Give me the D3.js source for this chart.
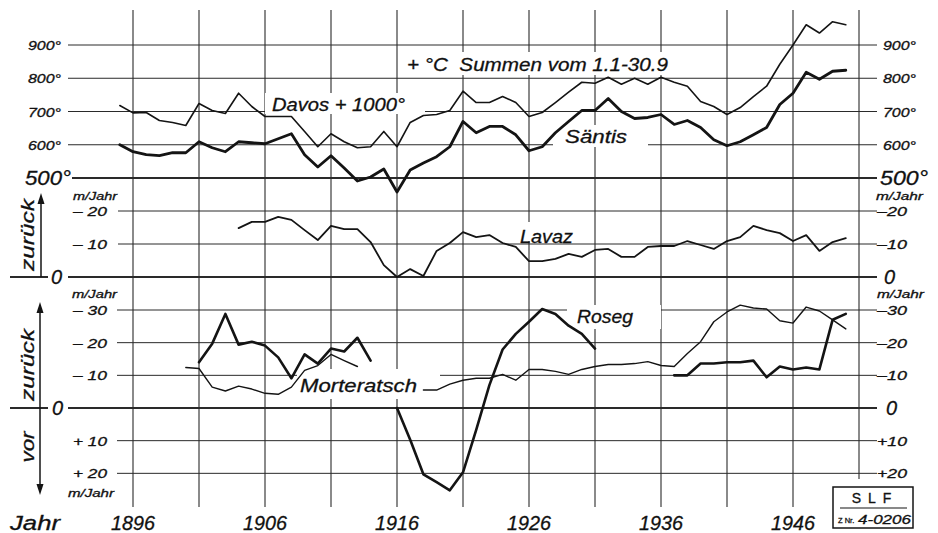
<!DOCTYPE html>
<html>
<head>
<meta charset="utf-8">
<script src="https://cdn.jsdelivr.net/npm/d3@7"></script>
<style>
  html, body { margin: 0; padding: 0; background: #fff; }
  svg { display: block; }
  text { font-family: "Liberation Sans", Arial, sans-serif; font-style: italic; fill: #111; stroke: #111; stroke-width: 0.3; }
</style>
</head>
<body>
<svg id="chart" width="938" height="533"></svg>
<script>
// ---------- DATA ----------
const years = [1895,1896,1897,1898,1899,1900,1901,1902,1903,1904,1905,1906,1907,1908,1909,
  1910,1911,1912,1913,1914,1915,1916,1917,1918,1919,1920,1921,1922,1923,1924,1925,1926,1927,
  1928,1929,1930,1931,1932,1933,1934,1935,1936,1937,1938,1939,1940,1941,1942,1943,1944,1945,
  1946,1947,1948,1949,1950];

// Temperature sums (+°C, 1.1-30.9); Davos shown +1000°
const davos = [718,696,697,673,667,658,724,703,694,755,715,685,685,685,640,
  594,633,609,591,594,640,594,667,688,691,703,761,727,727,745,727,685,697,
  727,758,788,785,803,782,800,782,803,788,776,730,715,691,712,745,776,842,
  900,961,936,970,961];
const saentis = [600,579,570,567,576,576,609,591,579,609,606,603,618,633,570,
  533,567,530,491,503,527,458,524,545,564,594,670,636,655,655,630,582,594,
  636,670,703,703,739,700,679,682,691,661,673,652,615,597,609,630,652,721,
  755,818,797,821,824];

// Glacier change, m/Jahr (positive = zurück / retreat, negative = vor / advance)
const lavaz = [null,null,null,null,null,null,null,null,null,14.8,16.7,16.7,18.2,17.3,14.2,
  11.2,15.5,14.5,14.5,10.6,3.6,0,2.4,0.3,7.9,10.3,13.6,12.1,12.7,10.3,9.1,4.8,4.8,
  5.5,7.0,6.1,8.2,8.5,6.1,6.1,9.1,9.4,9.4,10.9,9.7,8.5,10.9,12.1,15.5,14.2,13.3,
  10.9,12.7,7.9,10.6,11.8];
const morteratsch = [null,null,null,null,null,12.4,12.1,6.4,5.2,6.7,5.8,4.5,4.2,6.4,11.5,
  13.0,16.4,14.5,12.7,null,null,null,null,5.5,5.5,7.3,8.5,9.1,9.1,10.3,8.5,11.8,11.8,
  11.2,10.3,11.8,12.7,13.3,13.3,13.6,14.2,13.0,12.7,16.7,20.3,26.4,29.4,31.5,30.6,30.3,26.7,
  26.0,30.9,29.7,27.0,24.2];
const roseg = [null,null,null,null,null,null,14.0,19.7,28.8,19.4,20.3,19.1,15.5,9.1,16.4,
  13.6,18.2,17.3,21.5,14.5,null,0,-9.7,-20.3,-22.7,-25.2,-19.7,-6.7,7.0,17.9,22.7,26.4,30.3,
  28.8,25.2,22.7,18.2,null,null,null,null,null,10.0,10.0,13.6,13.6,14.0,14.0,14.5,9.4,12.7,
  11.8,12.4,11.8,27.0,28.8];

// Ticks / labels
const gridYears = [1896,1901,1906,1911,1916,1921,1926,1931,1936,1941,1946,1951];
const yearLabels = [1896,1906,1916,1926,1936,1946];
const tempTicks = [600,700,800,900];
const tempLabels = ["600°","700°","800°","900°"];
const midTicks = [10,20];
const midLabelsL = ["– 10","– 20"];
const midLabelsR = ["–10","–20"];
const botTicks = [30,20,10,-10,-20];
const botLabelsL = ["– 30","– 20","– 10","+ 10","+ 20"];
const botLabelsR = ["–30","–20","–10","+10","+20"];

// ---------- SCALES ----------
const svg = d3.select("#chart");
const x = d3.scaleLinear().domain([1896,1951]).range([133,859]);
const yTop = d3.scaleLinear().domain([500,900]).range([178,45]);
const yMid = d3.scaleLinear().domain([0,20]).range([277,211]);
const yBot = d3.scaleLinear().domain([0,30]).range([408,310]);

const ink = "#141414";
const grid = svg.append("g");

// vertical grid lines
grid.selectAll("line.v").data(gridYears).join("line")
  .attr("x1", d => x(d)).attr("x2", d => x(d))
  .attr("y1", 10).attr("y2", d => d === 1951 ? 479 : 507)
  .attr("stroke", "#2a2a2a").attr("stroke-width", 1.1);

// horizontal grid lines
function hline(y, x1, x2, w) {
  grid.append("line").attr("x1", x1).attr("x2", x2).attr("y1", y).attr("y2", y)
    .attr("stroke", "#2a2a2a").attr("stroke-width", w);
}
tempTicks.forEach(t => hline(yTop(t), 68, 877, 1));
hline(yTop(500), 72, 877, 1.8);
midTicks.forEach(t => hline(yMid(t), 118, 877, 1));
hline(yMid(0), 68, 877, 1.8);
hline(yMid(0), 10, 48, 1.8);
botTicks.forEach(t => hline(yBot(t), 117, 877, 1));
hline(yBot(0), 68, 877, 1.8);
hline(yBot(0), 10, 48, 1.8);

// white boxes behind in-plot labels
const boxes = [[403,52,269,23],[265,93,160,21],[553,125,95,22],[515,222,65,19],[567,305,94,24],[297,369,143,30]];
grid.selectAll("rect.bg").data(boxes).join("rect")
  .attr("x", d => d[0]).attr("y", d => d[1]).attr("width", d => d[2]).attr("height", d => d[3])
  .attr("fill", "#fff");

// ---------- DATA LINES ----------
function drawSeries(vals, yScale, w) {
  const pts = years.map((yr, i) => [yr, vals[i]]);
  const line = d3.line().defined(d => d[1] !== null)
    .x(d => x(d[0])).y(d => yScale(d[1]));
  svg.append("path").attr("d", line(pts)).attr("fill", "none")
    .attr("stroke", ink).attr("stroke-width", w)
    .attr("stroke-linejoin", "round").attr("stroke-linecap", "round");
}
drawSeries(davos, yTop, 1.6);
drawSeries(saentis, yTop, 2.8);
drawSeries(lavaz, yMid, 1.8);
drawSeries(morteratsch, yBot, 1.4);
drawSeries(roseg, yBot, 2.6);

// ---------- TEXT ----------
function txt(s, xx, yy, size, opts = {}) {
  const t = svg.append("text").attr("x", xx).attr("y", yy).attr("font-size", size).text(s);
  if (opts.anchor) t.attr("text-anchor", opts.anchor);
  if (opts.len) t.attr("textLength", opts.len).attr("lengthAdjust", "spacingAndGlyphs");
  if (opts.ls) t.attr("letter-spacing", opts.ls);
  if (opts.normal) t.style("font-style", "normal");
  return t;
}

// temperature axis labels
tempTicks.forEach((t, i) => {
  txt(tempLabels[i], 61, yTop(t) + 5, 13, {anchor: "end", len: 33});
  txt(tempLabels[i], 883, yTop(t) + 5, 13, {len: 33});
});
txt("500°", 25, 185, 21, {len: 46});
txt("500°", 880, 185, 21, {len: 48});

// m/Jahr unit labels
txt("m/Jahr", 73, 200, 11, {len: 44});
txt("m/Jahr", 876, 200, 11, {len: 47});
txt("m/Jahr", 72, 298, 11, {len: 45});
txt("m/Jahr", 877, 298, 11, {len: 47});
txt("m/Jahr", 68, 497, 11, {len: 46});

// middle panel ticks
midTicks.forEach((t, i) => {
  txt(midLabelsL[i], 73, yMid(t) + 5, 13, {len: 34});
  txt(midLabelsR[i], 877, yMid(t) + 5, 13, {len: 30});
});
txt("0", 51, 284, 20);
txt("0", 884, 284, 20);

// bottom panel ticks
botTicks.forEach((t, i) => {
  txt(botLabelsL[i], 73, yBot(t) + 5, 13, {len: 34});
  txt(botLabelsR[i], 877, yBot(t) + 5, 13, {len: 30});
});
txt("0", 52, 415, 20);
txt("0", 886, 415, 20);

// arrows and direction words
const arrows = svg.append("g").attr("stroke", ink).attr("stroke-width", 1.5);
arrows.append("line").attr("x1", 41).attr("x2", 41).attr("y1", yMid(0)).attr("y2", 200);
arrows.append("line").attr("x1", 40).attr("x2", 40).attr("y1", 306).attr("y2", 490);
svg.append("path").attr("d", "M41,193 L37.5,204 L44.5,204 Z").attr("fill", ink);
svg.append("path").attr("d", "M40,302 L36.5,313 L43.5,313 Z").attr("fill", ink);
svg.append("path").attr("d", "M40,495 L36.5,484 L43.5,484 Z").attr("fill", ink);

function vtxt(s, cx, cy, len) {
  svg.append("text").attr("transform", `translate(${cx},${cy}) rotate(-90)`)
    .attr("text-anchor", "middle").attr("font-size", 19)
    .attr("textLength", len).attr("lengthAdjust", "spacingAndGlyphs").text(s);
}
vtxt("zurück", 34, 235, 72);
vtxt("zurück", 34, 365, 72);
vtxt("vor", 34, 447, 31);

// year axis
txt("Jahr", 10, 530, 20, {len: 50});
yearLabels.forEach(yr => txt(String(yr), x(yr), 530, 20, {anchor: "middle", len: 44}));

// series / title labels
txt("+ °C\u00a0\u00a0Summen vom 1.1-30.9", 407, 71, 19, {len: 261});
txt("Davos + 1000°", 272, 111, 19, {len: 133});
txt("Säntis", 565, 143, 19, {len: 62});
txt("Lavaz", 520, 243, 19, {len: 53});
txt("Roseg", 577, 323, 19, {len: 56});
txt("Morteratsch", 300, 392, 19, {len: 117});

// SLF stamp
svg.append("rect").attr("x", 833).attr("y", 487).attr("width", 80).attr("height", 41)
  .attr("fill", "#fff").attr("stroke", ink).attr("stroke-width", 1.5);
txt("SLF", 875, 503, 14, {anchor: "middle", normal: true, ls: 7});
svg.append("line").attr("x1", 840).attr("x2", 907).attr("y1", 508).attr("y2", 508)
  .attr("stroke", ink).attr("stroke-width", 1.2);
txt("Z Nr.", 838, 523, 7.5, {normal: true});
txt("4-0206", 858, 524, 13, {len: 53});
</script>
</body>
</html>
